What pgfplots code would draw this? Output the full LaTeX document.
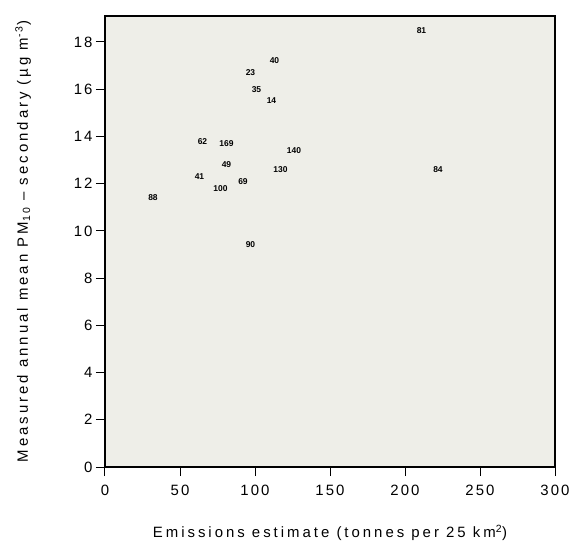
\documentclass[border=0pt]{standalone}
\usepackage{pgfplots}
\pgfplotsset{compat=1.18}
\usepackage{fontspec}
\setmainfont{Liberation Sans}
\newfontfamily\lblfont[LetterSpace=14,Ligatures=TeX]{Liberation Sans}
\newfontfamily\titlefont[LetterSpace=20,Ligatures=TeX]{Liberation Sans}
\definecolor{plotbg}{RGB}{238,238,232}

\begin{document}
\begin{tikzpicture}
\begin{axis}[
  width=450bp, height=451bp, scale only axis,
  xmin=0, xmax=300, ymin=0, ymax=19.1,
  xtick={0,50,...,300}, ytick={0,2,...,18},
  tick align=outside, major tick length=9bp,
  xtick pos=bottom, ytick pos=left,
  axis line style={line width=1.2pt},
  tick style={line width=1pt, black},
  axis background/.style={fill=plotbg},
  tick label style={font=\fontsize{15}{17}\lblfont},
  /pgf/number format/assume math mode=true,
  xticklabel style={yshift=-6bp},
  xlabel={Emissions estimate (tonnes per 25 km\textsuperscript{2})},
  ylabel={Measured annual mean PM\textsubscript{10} – secondary (µg m\textsuperscript{-3})},
  label style={font=\fontsize{15}{17}\titlefont},
  xlabel style={yshift=-22bp},
  ylabel style={yshift=36bp},
]
\addplot[only marks, mark=none, nodes near coords, point meta=explicit symbolic,
  every node near coord/.append style={anchor=center, inner sep=0pt,
    font=\fontsize{8.5}{9}\selectfont\bfseries}]
  table[meta=lab] {
x y lab
211 18.5 81
113 17.2 40
97 16.7 23
101 16.0 35
111 15.5 14
65 13.8 62
81 13.7 169
126 13.4 140
81 12.8 49
117 12.6 130
222 12.6 84
63 12.3 41
92 12.1 69
77 11.8 100
32 11.4 88
97 9.4 90
};
\coordinate (bl) at (rel axis cs:0,0);
\coordinate (tr) at (rel axis cs:1,1);
\end{axis}
\pgfresetboundingbox
\path ([shift={(-105bp,-83bp)}]bl) rectangle ([shift={(25bp,16bp)}]tr);
\end{tikzpicture}
\end{document}
